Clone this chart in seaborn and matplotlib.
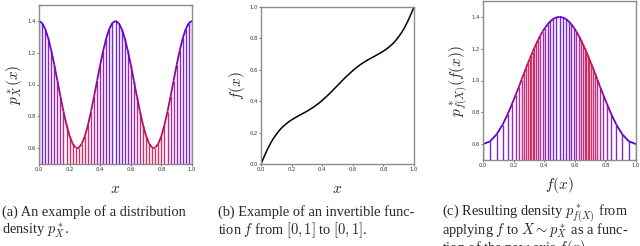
import numpy as np
import pandas as pd
import seaborn as sns
import matplotlib.pyplot as plt
from matplotlib.collections import LineCollection
from matplotlib.colors import LinearSegmentedColormap, Normalize

sns.set_style('ticks')
plt.rcParams['font.family'] = ['DejaVu Sans']
plt.rcParams['mathtext.fontset'] = 'cm'
plt.rcParams['axes.edgecolor'] = '#8c8c8c'
plt.rcParams['axes.linewidth'] = 1.0

# sample points on the x axis (stems in panel a)
x_vals = [0.00, 0.02, 0.04, 0.06, 0.08, 0.10, 0.12, 0.14, 0.16, 0.18,
          0.20, 0.22, 0.24, 0.26, 0.28, 0.30, 0.32, 0.34, 0.36, 0.38,
          0.40, 0.42, 0.44, 0.46, 0.48, 0.50, 0.52, 0.54, 0.56, 0.58,
          0.60, 0.62, 0.64, 0.66, 0.68, 0.70, 0.72, 0.74, 0.76, 0.78,
          0.80, 0.82, 0.84, 0.86, 0.88, 0.90, 0.92, 0.94, 0.96, 0.98, 1.00]

# density p*_X(x)
p_vals = [1.400, 1.387, 1.351, 1.292, 1.214, 1.124, 1.025, 0.925, 0.830, 0.745,
          0.676, 0.628, 0.603, 0.603, 0.628, 0.676, 0.745, 0.830, 0.925, 1.025,
          1.124, 1.214, 1.292, 1.351, 1.387, 1.400, 1.387, 1.351, 1.292, 1.214,
          1.124, 1.025, 0.925, 0.830, 0.745, 0.676, 0.628, 0.603, 0.603, 0.628,
          0.676, 0.745, 0.830, 0.925, 1.025, 1.124, 1.214, 1.292, 1.351, 1.387,
          1.400]

# invertible function f(x)
f_vals = [0.000, 0.046, 0.089, 0.128, 0.161, 0.189, 0.214, 0.235, 0.252, 0.268,
          0.281, 0.293, 0.304, 0.315, 0.325, 0.336, 0.348, 0.360, 0.374, 0.389,
          0.405, 0.423, 0.441, 0.460, 0.480, 0.500, 0.520, 0.540, 0.559, 0.577,
          0.595, 0.611, 0.626, 0.640, 0.652, 0.664, 0.675, 0.685, 0.696, 0.707,
          0.719, 0.732, 0.748, 0.765, 0.786, 0.811, 0.839, 0.872, 0.911, 0.954,
          1.000]

# resulting density p*_f(X)(f(x))
q_vals = [0.600, 0.617, 0.661, 0.722, 0.787, 0.851, 0.910, 0.961, 1.006, 1.045,
          1.078, 1.107, 1.133, 1.158, 1.182, 1.206, 1.230, 1.255, 1.281, 1.307,
          1.331, 1.354, 1.373, 1.388, 1.397, 1.400, 1.397, 1.388, 1.373, 1.354,
          1.331, 1.307, 1.281, 1.255, 1.230, 1.206, 1.182, 1.158, 1.133, 1.107,
          1.078, 1.045, 1.006, 0.961, 0.910, 0.851, 0.787, 0.722, 0.661, 0.617,
          0.600]

ticks_01 = [0.0, 0.2, 0.4, 0.6, 0.8, 1.0]
ticks_dens = [0.6, 0.8, 1.0, 1.2, 1.4]

captions = [
    ['(a) An example of a distribution', 'density $p^*_X$.'],
    ['(b) Example of an invertible func-', 'tion $f$ from $[0, 1]$ to $[0, 1]$.'],
    ['(c) Resulting density $p^*_{f(X)}$ from',
     'applying $f$ to $X \\sim p^*_X$ as a func-',
     'tion of the new axis $f(x)$.'],
]

cmap = LinearSegmentedColormap.from_list('dens', ['#cc0f4e', '#5a00d6'])
norm = Normalize(vmin=0.6, vmax=1.4)


def stem_panel(ax, xs, ys, color_by):
    colors = cmap(norm(np.array(color_by)))
    ax.vlines(xs, 0, ys, colors=colors, linewidth=1.0, alpha=0.85)
    pts = np.column_stack([xs, ys])
    segs = np.stack([pts[:-1], pts[1:]], axis=1)
    mid = (np.array(color_by[:-1]) + np.array(color_by[1:])) / 2
    lc = LineCollection(segs, colors=cmap(norm(mid)), linewidth=1.3)
    ax.add_collection(lc)
    ax.set_xlim(0, 1)
    ax.set_ylim(0.5, 1.5)
    ax.set_yticks(ticks_dens)


def style_axes(ax):
    ax.set_xticks(ticks_01)
    ax.tick_params(labelsize=3.8, length=1.5, width=0.5, pad=1, colors='#333333')
    for s in ax.spines.values():
        s.set_visible(True)


fig = plt.figure(figsize=(6.4, 2.46), dpi=100)
ax1 = fig.add_axes([39 / 640, 82 / 246, 153 / 640, 159 / 246])
ax2 = fig.add_axes([261 / 640, 82 / 246, 153 / 640, 157 / 246])
ax3 = fig.add_axes([483 / 640, 86 / 246, 153 / 640, 159 / 246])

stem_panel(ax1, x_vals, p_vals, p_vals)
ax1.set_yticklabels(['%.1f' % t for t in ticks_dens])
ax1.set_xlabel('$x$', fontsize=11, labelpad=6)
ax1.set_ylabel('$p^*_X(x)$', fontsize=11, labelpad=2)

df = pd.DataFrame({'x': x_vals, 'f': f_vals})
sns.lineplot(data=df, x='x', y='f', ax=ax2, color='black', linewidth=1.1)
ax2.set_xlim(0, 1)
ax2.set_ylim(0, 1)
ax2.set_yticks(ticks_01)
ax2.set_xlabel('$x$', fontsize=11, labelpad=6)
ax2.set_ylabel('$f(x)$', fontsize=11, labelpad=1.5)

stem_panel(ax3, f_vals, q_vals, p_vals)
ax3.set_xlabel('$f(x)$', fontsize=11, labelpad=5)
ax3.set_ylabel('$p^*_{f(X)}(f(x))$', fontsize=11, labelpad=0)

for ax in (ax1, ax2, ax3):
    style_axes(ax)

# captions, one text per line so the spacing stays even
cap_x = [2 / 640, 218 / 640, 442 / 640]
for cx, lines in zip(cap_x, captions):
    for i, line in enumerate(lines):
        base = 216 + i * 18
        fig.text(cx, 1 - base / 246, line, ha='left', va='baseline',
                 fontsize=10.4, family=['Liberation Serif', 'DejaVu Serif'])

fig.savefig('out.png', dpi=100)
